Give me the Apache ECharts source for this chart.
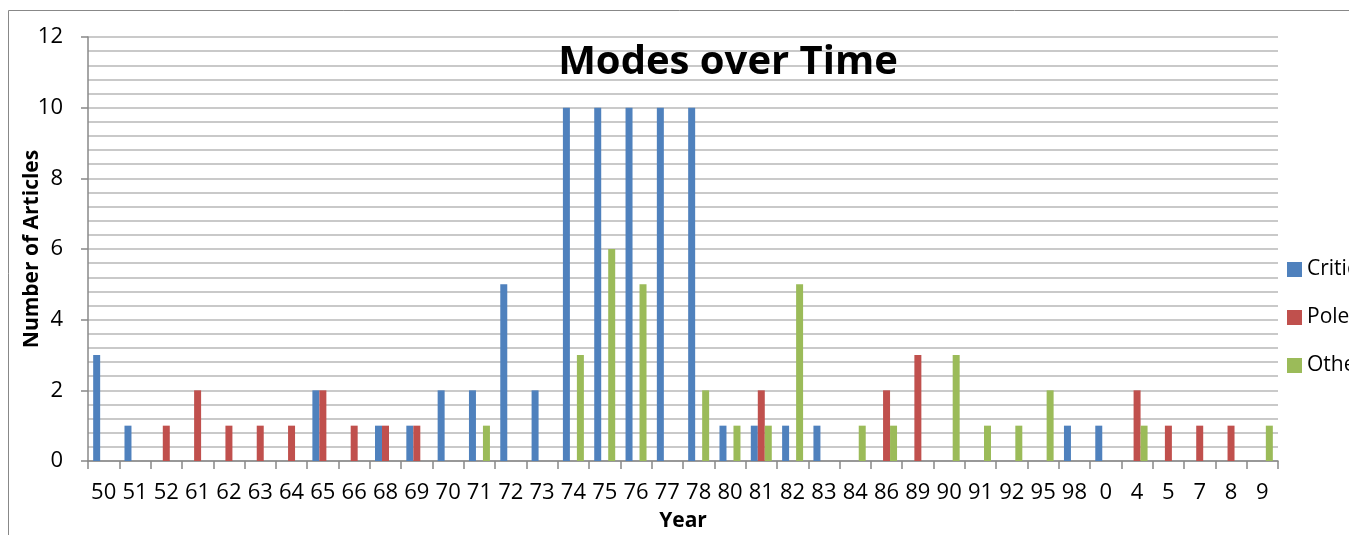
<!DOCTYPE html>
<html>
	<head>
		<meta charset="utf-8">
		<title>Modes over Time</title>
		<script src="https://cdn.jsdelivr.net/npm/echarts@6/dist/echarts.min.js" type="text/javascript"></script>
		<style type="text/css">
			html,body{margin: 0; padding: 0; background-color: #fff;}
			#main{width: 1349px; height: 535px;}
		</style>
	</head>
	<body>
		<div id="main"></div>
		<script type="text/javascript">
			// 年份（横轴）
			var years = ['50','51','52','61','62','63','64','65','66','68','69','70','71','72','73','74','75','76','77','78',
				'80','81','82','83','84','86','89','90','91','92','95','98','0','4','5','7','8','9'];
			// 三个系列，按 years 的顺序
			var critical = [3,1,0,0,0,0,0,2,0,1,1,2,2,5,2,10,10,10,10,10,1,1,1,1,0,0,0,0,0,0,0,1,1,0,0,0,0,0];
			var polemic  = [0,0,1,2,1,1,1,2,1,1,1,0,0,0,0,0,0,0,0,0,0,2,0,0,0,2,3,0,0,0,0,0,0,2,1,1,1,0];
			var other    = [0,0,0,0,0,0,0,0,0,0,0,0,1,0,0,3,6,5,0,2,1,1,5,0,1,1,0,3,1,1,2,0,0,1,0,0,0,1];
			var seriesNames = ['Critical', 'Polemic', 'Other'];
			var colors = ['#4F81BD', '#C0504D', '#9BBB59'];

			var font = '"Open Sans", sans-serif';
			var myChart = echarts.init(document.getElementById('main'), null, {renderer: 'canvas'});

			var option = {
				animation: false,
				color: colors,
				textStyle: {fontFamily: font},
				title: {
					text: 'Modes over Time',
					left: 723,
					textAlign: 'center',
					top: 38,
					textStyle: {fontFamily: font, fontSize: 40, fontWeight: 'bold', color: '#000'}
				},
				graphic: [{
					type: 'rect',
					shape: {x: 8.5, y: 10.5, width: 1400, height: 600},
					style: {fill: 'none', stroke: '#888', lineWidth: 1},
					silent: true,
					z: -1
				}],
				legend: {
					orient: 'vertical',
					left: 1282,
					top: 254,
					itemGap: 27,
					itemWidth: 15,
					itemHeight: 15,
					icon: 'rect',
					textStyle: {fontFamily: font, fontSize: 21, color: '#000'},
					data: seriesNames
				},
				grid: {left: 88, top: 37, right: 71, bottom: 74, outerBoundsMode: 'none'},
				xAxis: {
					type: 'category',
					data: years,
					name: 'Year',
					nameLocation: 'middle',
					nameGap: 50,
					nameMoveOverlap: false,
					nameTextStyle: {fontFamily: font, fontSize: 21, fontWeight: 'bold', color: '#000'},
					axisLine: {lineStyle: {color: '#888', width: 1.5}},
					axisTick: {show: true, length: 8, lineStyle: {color: '#888', width: 1.5}},
					axisLabel: {fontFamily: font, fontSize: 22, color: '#000', margin: 21, interval: 0}
				},
				yAxis: {
					type: 'value',
					min: 0,
					max: 12,
					interval: 2,
					name: 'Number of Articles',
					nameLocation: 'middle',
					nameGap: 45,
					nameMoveOverlap: false,
					nameTextStyle: {fontFamily: font, fontSize: 21, fontWeight: 'bold', color: '#000'},
					axisLine: {show: true, lineStyle: {color: '#888', width: 1.5}},
					axisTick: {show: true, length: 7, lineStyle: {color: '#888', width: 1.5}},
					axisLabel: {fontFamily: font, fontSize: 22, color: '#000', margin: 25},
					splitLine: {lineStyle: {color: '#b8b8b8', width: 1.5}},
					minorTick: {show: false, splitNumber: 5},
					minorSplitLine: {show: true, lineStyle: {color: '#b8b8b8', width: 1.5}}
				},
				series: [
					{name: seriesNames[0], type: 'bar', data: critical, barGap: '0%', barCategoryGap: '33%'},
					{name: seriesNames[1], type: 'bar', data: polemic, barGap: '0%', barCategoryGap: '33%'},
					{name: seriesNames[2], type: 'bar', data: other, barGap: '0%', barCategoryGap: '33%'}
				]
			};

			myChart.setOption(option);
		</script>
	</body>
</html>
